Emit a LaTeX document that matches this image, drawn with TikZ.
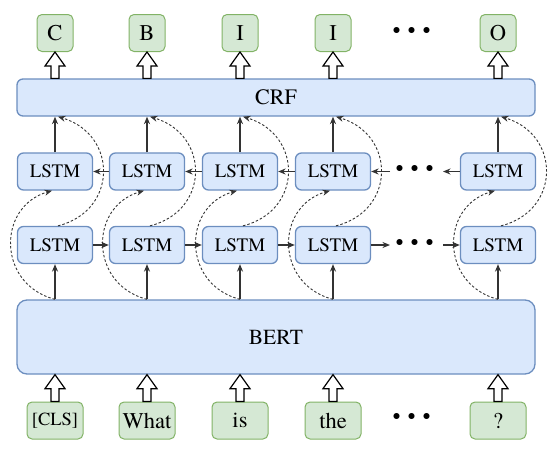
\documentclass[tikz,border=0pt]{standalone}
\usepackage{fontspec}
\setmainfont{texgyretermes}[Extension=.otf,UprightFont=*-regular,BoldFont=*-bold,ItalicFont=*-italic,BoldItalicFont=*-bolditalic]
\usetikzlibrary{arrows.meta,calc}
\definecolor{bfill}{HTML}{DAE8FC}
\definecolor{bdraw}{HTML}{6C8EBF}
\definecolor{gfill}{HTML}{D5E8D4}
\definecolor{gdraw}{HTML}{82B366}
\definecolor{ln}{HTML}{333333}
\newcommand\fatarrow[2]{%
  \draw[hollow] let \p1=(#1), \p2=(#2) in
    (\x1-4pt,\y1) -- (\x1-4pt,\y2-14pt) -- (\x1-10pt,\y2-14pt) -- (\x1,\y2)
    -- (\x1+10pt,\y2-14pt) -- (\x1+4pt,\y2-14pt) -- (\x1+4pt,\y1) -- cycle;}
\begin{document}
\begin{tikzpicture}[x=1pt,y=-1pt,
  bbox/.style={draw=bdraw,fill=bfill,line width=1.3pt,rounded corners=6pt,inner sep=0pt},
  lstm/.style={bbox,minimum width=75pt,minimum height=37pt,font=\fontsize{19}{19}\selectfont},
  gbox/.style={draw=gdraw,fill=gfill,line width=1pt,rounded corners=5pt,inner sep=0pt,minimum height=37pt,font=\fontsize{22.5}{22.5}\selectfont},
  outbox/.style={gbox,minimum width=36pt},
  inbox/.style={gbox,minimum width=56pt},
  sarrow/.style={draw=ln,line width=1.1pt,-{Stealth[length=7.5pt,width=6pt]}},
  darrow/.style={draw=ln,line width=0.9pt,dash pattern=on 2.5pt off 2pt,-{Stealth[length=7.5pt,width=6pt]}},
  dotstxt/.style={font=\bfseries\fontsize{36}{36}\selectfont,inner sep=0pt},
  hollow/.style={draw=black,fill=white,line width=1.2pt,line join=miter}
]
\useasboundingbox (0,0) rectangle (550,450);
% outputs
\node[outbox] (o1) at (55,33) {C};
\node[outbox] (o2) at (147,33) {B};
\node[outbox] (o3) at (240,33) {I};
\node[outbox] (o4) at (333,33) {I};
\node[outbox] (o5) at (498,33) {O};
\node[dotstxt] (od) at (412,33) {·\,·\,·};
% CRF
\node[bbox,minimum width=518pt,minimum height=37pt,font=\fontsize{22}{22}\selectfont] (crf) at (276,97.5) {CRF};
% LSTMs
\node[lstm] (t1) at (55,171.5) {LSTM};
\node[lstm] (t2) at (147,171.5) {LSTM};
\node[lstm] (t3) at (240,171.5) {LSTM};
\node[lstm] (t4) at (333,171.5) {LSTM};
\node[lstm] (t5) at (498,171.5) {LSTM};
\node[lstm] (b1) at (55,245) {LSTM};
\node[lstm] (b2) at (147,245) {LSTM};
\node[lstm] (b3) at (240,245) {LSTM};
\node[lstm] (b4) at (333,245) {LSTM};
\node[lstm] (b5) at (498,245) {LSTM};
\node[dotstxt] (td) at (415,171.5) {·\,·\,·};
\node[dotstxt] (bd) at (415,245) {·\,·\,·};
\coordinate (td1) at (390,171.5);
\coordinate (td2) at (443,171.5);
\coordinate (bd1) at (390,245);
\coordinate (bd2) at (443,245);
% BERT
\node[bbox,rounded corners=10pt,minimum width=518pt,minimum height=74pt,font=\fontsize{21.5}{21.5}\selectfont] (bert) at (276,337) {BERT};
% inputs
\node[inbox,font=\fontsize{18.5}{18.5}\selectfont] (in1) at (55,420.5) {[CLS]};
\node[inbox] (in2) at (147,420.5) {What};
\node[inbox] (in3) at (240,420.5) {is};
\node[inbox] (in4) at (333,420.5) {the};
\node[inbox] (in5) at (498,420.5) {?};
\node[dotstxt] (id) at (412,419) {·\,·\,·};
% connectors
\foreach \i/\j in {1/2,2/3,3/4}{
  \draw[sarrow] (b\i.east) -- (b\j.west);
  \draw[sarrow] (t\j.west) -- (t\i.east);
}
\draw[sarrow] (b4.east) -- (bd1);
\draw[sarrow] (bd2) -- (b5.west);
\draw[sarrow] (t5.west) -- (td2);
\draw[sarrow] (td1) -- (t4.east);
\foreach \i in {1,...,5}{
  \draw[sarrow] (bert.north -| b\i) -- (b\i.south);
  \draw[sarrow] (t\i.north) -- (t\i.north |- crf.south);
  \draw[darrow] (bert.north -| t\i) .. controls +(-58,-15) and +(-55,16) .. ([xshift=-3pt]t\i.south);
  \draw[darrow] ([xshift=3pt]b\i.north) .. controls +(60,-15) and +(60,18) .. ($(crf.south -| t\i)+(3,0)$);
  \fatarrow{in\i.north}{bert.south -| in\i}
  \fatarrow{crf.north -| o\i}{o\i.south}
}
\end{tikzpicture}
\end{document}
